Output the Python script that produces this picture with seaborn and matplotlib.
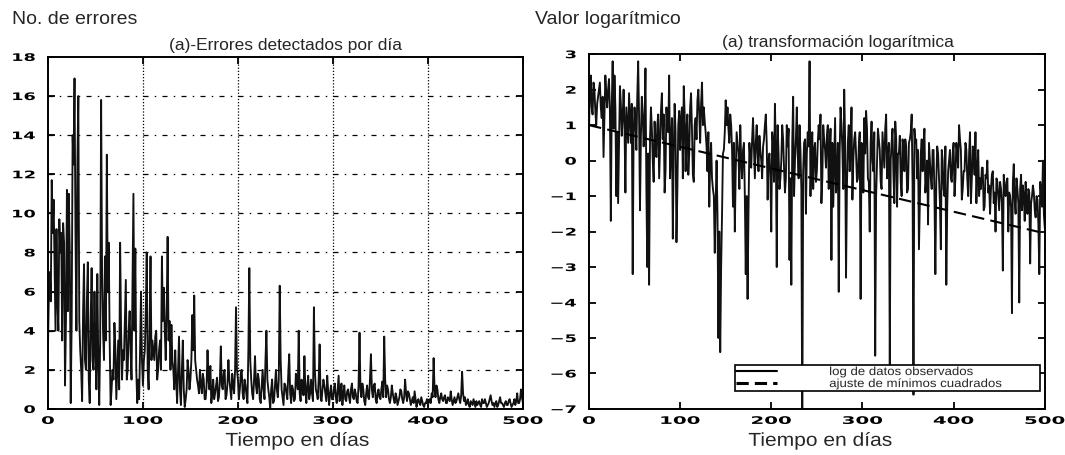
import numpy as np
import pandas as pd
import matplotlib
matplotlib.use("Agg")
import matplotlib.pyplot as plt
from matplotlib.lines import Line2D
from matplotlib.patheffects import AbstractPathEffect
from matplotlib.transforms import Affine2D
import seaborn as sns

# ---------------- data ----------------
dias_pares = list(range(0, 501, 2))
dias_impares = list(range(1, 500, 2))

errores_pares = [
    3.0, 7.0, 11.7, 10.7, 4.0, 5.5, 9.7, 9.0, 9.5, 1.2,
    11.2, 11.0, 0.3, 14.0, 16.9, 4.0, 16.0, 3.0, 0.4, 7.4,
    2.0, 7.5, 0.3, 7.2, 2.0, 3.0, 6.9, 0.2, 15.8, 4.0,
    7.8, 13.0, 8.5, 0.2, 2.0, 4.4, 0.5, 3.5, 8.5, 1.5,
    2.5, 6.6, 2.0, 5.0, 1.5, 11.0, 8.2, 0.3, 0.5, 6.0,
    1.2, 3.0, 8.0, 1.0, 7.8, 3.5, 2.5, 4.0, 2.0, 3.5,
    7.8, 6.2, 2.5, 8.8, 4.5, 4.3, 2.0, 3.0, 0.3, 3.7,
    0.2, 3.5, 0.1, 1.0, 2.0, 1.5, 4.8, 5.8, 2.0, 1.2,
    2.0, 0.8, 1.5, 0.5, 3.0, 1.0, 0.3, 1.5, 0.8, 1.6,
    0.6, 3.2, 1.0, 2.0, 0.7, 2.5, 1.0, 1.8, 0.8, 5.2,
    1.5, 1.0, 2.0, 0.5, 1.2, 0.3, 7.2, 1.5, 0.5, 2.7,
    0.8, 1.5, 0.3, 2.0, 0.5, 4.0, 1.0, 0.0, 1.5, 0.4,
    2.0, 0.6, 6.3, 1.0, 0.2, 1.2, 0.5, 2.8, 0.3, 1.0,
    0.5, 1.5, 4.0, 0.4, 1.2, 2.7, 0.3, 1.7, 0.8, 0.8,
    5.2, 1.0, 0.5, 3.3, 0.4, 1.5, 0.8, 1.7, 0.2, 1.2,
    0.5, 1.3, 0.3, 1.7, 0.6, 0.2, 1.2, 0.4, 1.0, 0.3,
    1.3, 0.5, 0.8, 0.3, 3.9, 0.6, 1.0, 0.2, 1.2, 0.5,
    2.8, 0.6, 1.3, 0.3, 1.0, 0.5, 1.4, 3.7, 0.6, 1.0,
    0.3, 1.2, 0.5, 0.8, 0.2, 0.6, 0.9, 0.3, 1.5, 0.4,
    0.8, 0.2, 0.6, 0.9, 0.1, 0.5, 0.2, 0.4, 0.1, 0.3,
    0.2, 0.5, 0.8, 2.6, 0.6, 1.0, 0.3, 0.8, 0.4, 0.7,
    0.3, 0.5, 0.9, 0.2, 0.6, 0.4, 0.8, 0.3, 1.9, 0.4,
    0.2, 0.5, 0.1, 0.3, 0.5, 0.1, 0.2, 0.4, 0.1, 0.3,
    0.5, 0.1, 0.3, 0.7, 0.2, 0.1, 0.4, 0.2, 0.6, 0.3,
    0.1, 0.4, 0.2, 0.5, 0.1, 0.3, 0.2, 0.8, 0.3, 1.0,
    0.3,
]

errores_impares = [
    6.0, 5.5, 9.0, 7.5, 9.2, 4.0, 8.0, 3.5, 8.5, 4.5,
    5.0, 8.0, 4.5, 12.5, 9.0, 12.5, 4.5, 2.0, 5.0, 2.5,
    5.5, 1.5, 4.5, 2.5, 6.0, 1.0, 2.5, 3.5, 7.0, 2.5,
    3.5, 6.0, 3.5, 1.0, 1.5, 3.0, 2.0, 1.0, 4.0, 3.0,
    4.5, 1.5, 4.0, 3.0, 6.5, 4.0, 2.0, 1.5, 3.0, 2.5,
    2.5, 5.0, 2.0, 4.0, 2.5, 3.0, 3.7, 1.5, 3.0, 2.0,
    4.5, 4.0, 5.0, 3.5, 2.0, 2.5, 1.0, 1.5, 2.0, 1.0,
    2.0, 1.0, 0.5, 2.5, 1.0, 2.5, 3.0, 2.5, 1.5, 0.8,
    1.2, 1.8, 0.5, 1.2, 1.5, 2.2, 0.8, 0.5, 1.2, 0.4,
    1.5, 1.2, 1.8, 0.5, 1.3, 1.5, 0.5, 1.2, 2.0, 2.0,
    0.5, 1.8, 0.8, 1.5, 0.7, 3.0, 2.5, 0.8, 1.5, 1.2,
    1.8, 0.5, 1.2, 1.0, 2.5, 1.5, 0.6, 1.0, 0.3, 1.2,
    1.0, 1.5, 2.5, 0.6, 1.3, 0.8, 1.8, 0.8, 1.2, 0.4,
    1.8, 1.0, 0.8, 1.5, 0.7, 1.0, 1.2, 0.5, 1.5, 0.4,
    2.0, 0.8, 1.5, 0.6, 1.0, 1.2, 0.4, 0.9, 0.8, 0.5,
    1.0, 0.6, 1.0, 0.4, 1.3, 0.8, 0.5, 0.9, 0.6, 1.0,
    0.6, 1.0, 0.4, 1.2, 1.0, 1.3, 0.4, 0.8, 0.6, 1.5,
    1.0, 1.2, 0.5, 0.8, 0.6, 1.0, 0.6, 1.5, 1.2, 0.5,
    0.6, 0.8, 0.3, 0.6, 0.4, 1.0, 0.5, 0.6, 0.8, 0.9,
    0.5, 0.4, 0.3, 0.5, 0.4, 0.3, 0.6, 0.2, 0.3, 0.5,
    0.4, 0.3, 0.6, 1.0, 1.2, 0.5, 0.6, 0.5, 0.6, 0.3,
    0.6, 0.4, 0.5, 0.4, 0.3, 0.6, 0.5, 0.7, 0.8, 0.6,
    0.3, 0.2, 0.4, 0.2, 0.3, 0.4, 0.3, 0.2, 0.5, 0.3,
    0.3, 0.2, 0.5, 0.4, 0.3, 0.3, 0.1, 0.4, 0.3, 0.2,
    0.3, 0.2, 0.4, 0.3, 0.2, 0.5, 0.4, 0.3, 0.5, 0.6,
]

log_pares = [
    0.8, 2.4, 1.3, 2.0, 1.0, 1.8, 2.2, 1.2, 0.1, 2.4,
    1.5, 2.3, -1.7, 2.8, 2.4, -1.0, -1.2, 2.1, 0.7, 2.0,
    -0.9, 1.0, 1.9, 0.5, -3.2, 1.5, 0.3, 2.8, -1.4, 1.8,
    0.4, 2.6, -3.0, -3.5, 1.5, 0.0, 1.1, 0.1, 1.3, 0.5,
    1.9, 1.3, -0.3, 1.0, 2.4, 0.5, -2.2, 1.6, -2.3, 1.0,
    0.3, 1.5, 2.1, -0.3, 1.3, 0.2, 1.9, -0.4, 1.0, 0.6,
    2.0, 0.5, 2.2, 1.5, 0.8, -0.3, -1.3, 0.5, -0.8, -2.6,
    0.0, -5.0, -5.4, -1.5, 0.3, 1.7, 1.5, 0.5, 1.0, -1.3,
    -2.0, 0.8, 0.2, 1.0, -0.5, 0.5, -3.2, -3.9, 0.5, -0.2,
    1.2, -0.5, 1.0, -0.3, 0.3, -0.5, 0.6, 1.3, -1.1, 0.2,
    -2.0, 0.5, 1.6, -3.0, 0.2, -0.5, 1.0, -0.2, -0.5, 0.4,
    -2.8, -3.5, 1.8, 0.0, 1.5, -0.5, 0.3, -8.0, 0.5, -1.5,
    0.8, 2.8, 0.3, -0.8, 0.5, -0.3, 1.0, 1.3, -0.5, 0.6,
    -0.2, 1.0, 0.2, -2.8, -1.3, 1.2, -0.5, -3.7, 1.5, 0.3,
    2.0, -3.3, 0.5, -0.3, 1.5, 0.0, 0.8, -0.6, 0.4, -3.9,
    0.3, 1.2, 1.4, -0.5, -2.0, 1.1, -0.3, -5.5, 0.0, 0.6,
    -0.6, 0.8, -0.2, 1.3, 0.2, -5.8, 0.5, -0.4, 1.1, -1.3,
    0.2, -0.6, 0.6, -0.3, 0.4, -0.8, 0.6, 1.3, -6.6, 0.5,
    -0.5, -2.5, 0.2, -0.3, 0.9, -0.5, -1.8, 0.0, -0.8, 0.3,
    -3.2, 0.4, -0.5, -2.5, 0.0, -1.0, -3.5, -0.3, 0.3, -0.6,
    0.5, -0.5, 0.2, 1.0, 0.3, -0.8, -0.3, 0.3, -1.0, 0.8,
    -0.5, 0.2, 0.8, -0.3, -1.0, -0.8, -0.2, -1.3, -0.5, -0.9,
    -1.5, -0.4, -1.2, -2.0, -0.6, -1.4, -0.8, -3.1, -0.8, -0.6,
    -2.0, -1.0, -4.3, -0.1, -1.5, -0.8, -4.0, -0.4, -0.7, -1.7,
    -1.2, -0.8, -2.9, -1.0, -0.9, -1.6, -1.1, -3.2, -0.9, 0.0,
    -1.9,
]

log_impares = [
    2.0, 1.5, 2.2, 1.4, 1.6, 2.0, 1.5, 1.8, 1.2, 1.9,
    2.0, 1.4, 1.5, 0.9, 1.5, 0.8, 0.5, 1.6, 1.2, 1.0,
    1.5, 0.5, 1.2, 1.6, 0.8, 1.0, 1.8, 1.2, 0.7, 1.3,
    1.1, -0.8, 0.2, 0.6, 0.9, -0.6, 0.5, 1.0, -0.5, 1.4,
    0.6, -0.9, 1.5, 0.8, -0.5, 1.2, 0.3, 0.8, -0.8, 1.4,
    1.2, -0.5, 1.3, 0.9, -0.4, 1.5, 0.9, -0.6, 1.2, 1.7,
    1.3, 1.6, 1.0, 1.1, 0.4, 0.8, 0.0, -0.5, -1.0, -1.2,
    -1.5, -2.0, -3.0, 0.2, 0.8, 1.0, 0.9, 1.3, 0.3, 0.5,
    -0.3, 0.5, -0.8, 0.0, 0.3, -1.0, -1.0, -1.5, 0.0, 0.6,
    0.3, 0.5, 0.2, 0.7, 0.0, 0.4, 1.0, 0.5, 0.0, -0.4,
    0.8, -0.6, 0.3, 1.0, -0.8, 0.0, 0.6, -0.9, 1.0, 0.9,
    -0.5, 0.5, -1.0, 0.6, 0.2, 1.0, -0.8, -0.3, 0.6, 0.2,
    0.4, -1.0, 0.8, 0.3, -0.6, 0.5, 0.6, -1.2, 1.0, 0.3,
    0.7, -0.8, 0.9, 0.5, 0.0, -0.9, 0.5, 0.2, 1.0, -0.8,
    0.6, -0.7, 1.0, 0.3, -1.1, 0.6, 0.2, -0.5, 0.8, 0.5,
    -0.9, 0.2, 0.9, -0.6, 0.5, 0.0, 0.8, -1.0, 0.9, 0.3,
    -0.8, 0.3, 0.9, -0.5, 0.5, 0.0, 0.9, -1.2, 0.6, 0.2,
    0.7, -1.0, 0.4, 0.6, -0.9, 0.5, 0.8, -0.7, 0.9, 0.6,
    0.3, -1.1, 0.6, 0.4, -0.9, 0.0, 0.5, -0.5, 0.3, -1.0,
    -0.6, 0.2, -1.2, 0.3, -0.8, 0.4, -1.3, 0.0, -0.5, 0.2,
    -1.0, 0.5, -0.2, 0.6, -1.1, -0.3, 0.5, -0.5, 0.2, -1.2,
    0.4, -0.4, -1.2, 0.3, -0.5, -0.2, -1.4, -0.4, 0.0, -0.7,
    -0.8, -0.3, -0.9, -0.5, -1.0, -0.6, -1.2, -0.4, -1.0, -0.5,
    -0.9, -1.3, -0.6, -1.1, -0.5, -1.2, -0.8, -1.4, -1.0, -0.6,
    -1.5, -0.9, -1.2, -0.7, -1.4, -1.0, -1.8, -0.6, -1.3, -1.5,
]

ajuste_dias = [0, 500]
ajuste_valores = [1.0, -2.05]

x_ticks = [0, 100, 200, 300, 400, 500]
y_ticks_izq = [0, 2, 4, 6, 8, 10, 12, 14, 16, 18]
y_ticks_der = [3, 2, 1, 0, -1, -2, -3, -4, -5, -6, -7]

# ---------------- tables ----------------
df1 = pd.concat([pd.DataFrame({"dia": dias_pares, "valor": errores_pares}),
                 pd.DataFrame({"dia": dias_impares, "valor": errores_impares})]
                ).sort_values("dia")
df2 = pd.concat([pd.DataFrame({"dia": dias_pares, "valor": log_pares}),
                 pd.DataFrame({"dia": dias_impares, "valor": log_impares})]
                ).sort_values("dia")
df3 = pd.DataFrame({"dia": ajuste_dias, "valor": ajuste_valores})


# horizontal stretch of text glyphs (the original uses wide, stretched lettering)
class Stretch(AbstractPathEffect):
    def __init__(self, sx, anchor="center"):
        super().__init__()
        self.sx = sx
        self.anchor = anchor

    def draw_path(self, renderer, gc, tpath, affine, rgbFace=None):
        ext = tpath.get_extents()
        if self.anchor == "center":
            ax0 = (ext.x0 + ext.x1) / 2
        elif self.anchor == "right":
            ax0 = ext.x1
        else:
            ax0 = ext.x0
        t = Affine2D().translate(-ax0, 0).scale(self.sx, 1.0).translate(ax0, 0)
        renderer.draw_path(gc, tpath, t + affine, rgbFace)


# ---------------- styling ----------------
sns.set_theme(style="white")
plt.rcParams["font.family"] = ["Liberation Sans", "DejaVu Sans"]

fig = plt.figure(figsize=(10.65, 4.56), dpi=100)
ax1 = fig.add_axes([0.045, 0.101, 0.446, 0.772])
ax2 = fig.add_axes([0.553, 0.101, 0.428, 0.778])

sns.lineplot(data=df1, x="dia", y="valor", ax=ax1, color="#111111",
             linewidth=1.35, estimator=None)
sns.lineplot(data=df2, x="dia", y="valor", ax=ax2, color="#111111",
             linewidth=1.35, estimator=None)
sns.lineplot(data=df3, x="dia", y="valor", ax=ax2, color="black",
             linewidth=1.5, linestyle=(0, (6, 3)), estimator=None, zorder=5)

tick_font = dict(family="DejaVu Sans", weight="bold", size=7.5)

for ax in (ax1, ax2):
    ax.set_xlim(0, 500)
    ax.set_xticks(x_ticks)
    ax.set_xticklabels([str(t) for t in x_ticks], fontdict=tick_font)
    ax.set_xlabel("")
    ax.set_ylabel("")
    for s in ax.spines.values():
        s.set_visible(True)
        s.set_color("black")
        s.set_linewidth(1.4)
    ax.tick_params(direction="in", length=5, width=1.3, top=True, right=True,
                   bottom=True, left=True, colors="black")
    ax.tick_params(axis="x", pad=5)
    ax.tick_params(axis="y", pad=9)

ax1.set_ylim(0, 18)
ax1.set_yticks(y_ticks_izq)
ax1.set_yticklabels([str(t) for t in y_ticks_izq], fontdict=tick_font)
for yv in y_ticks_izq[1:-1]:
    ax1.axhline(yv, color="black", linewidth=0.9, linestyle=(0, (4, 5, 1.2, 5)), zorder=0)
for xv in x_ticks[1:-1]:
    ax1.axvline(xv, color="black", linewidth=0.9, linestyle=(0, (1, 1.5)), zorder=0)

ax2.set_ylim(-7, 3)
ax2.set_yticks(y_ticks_der)
ax2.set_yticklabels([str(t).replace("-", "\u2212") for t in y_ticks_der], fontdict=tick_font)

for ax in (ax1, ax2):
    for tk in ax.xaxis.get_major_ticks():
        tk.label1.set_path_effects([Stretch(1.9, "center")])
    for tk in ax.yaxis.get_major_ticks():
        tk.label1.set_path_effects([Stretch(1.7, "right")])

ax1.set_title("(a)-Errores detectados por día", fontsize=12.5, pad=6)
ax2.set_title("(a) transformación logarítmica", fontsize=12.5, pad=6, x=0.546)

fig.text(0.011, 0.958, "No. de errores", fontsize=14, ha="left", va="center")
fig.text(0.502, 0.958, "Valor logarítmico", fontsize=14, ha="left", va="center")
t1 = fig.text(0.279, 0.030, "Tiempo en días", fontsize=13.5, ha="center", va="center")
t2 = fig.text(0.770, 0.030, "Tiempo en días", fontsize=13.5, ha="center", va="center")
for t in (t1, t2):
    t.set_path_effects([Stretch(1.12, "center")])

handles = [Line2D([0], [0], color="black", linewidth=1.5),
           Line2D([0], [0], color="black", linewidth=2.2, linestyle=(0, (4, 2)))]
leg = ax2.legend(handles, ["log de datos observados", "ajuste de mínimos cuadrados"],
                 loc="lower left", bbox_to_anchor=(0.32, 0.05, 0.669, 0.075),
                 mode="expand", fontsize=8.5, handlelength=3.5, handletextpad=4.4,
                 labelspacing=0.0, borderpad=0.1, fancybox=False, framealpha=1,
                 edgecolor="black", borderaxespad=0)
leg.get_frame().set_linewidth(1.2)
for t in leg.get_texts():
    t.set_path_effects([Stretch(1.12, "left")])

fig.savefig("out.png", dpi=100)
